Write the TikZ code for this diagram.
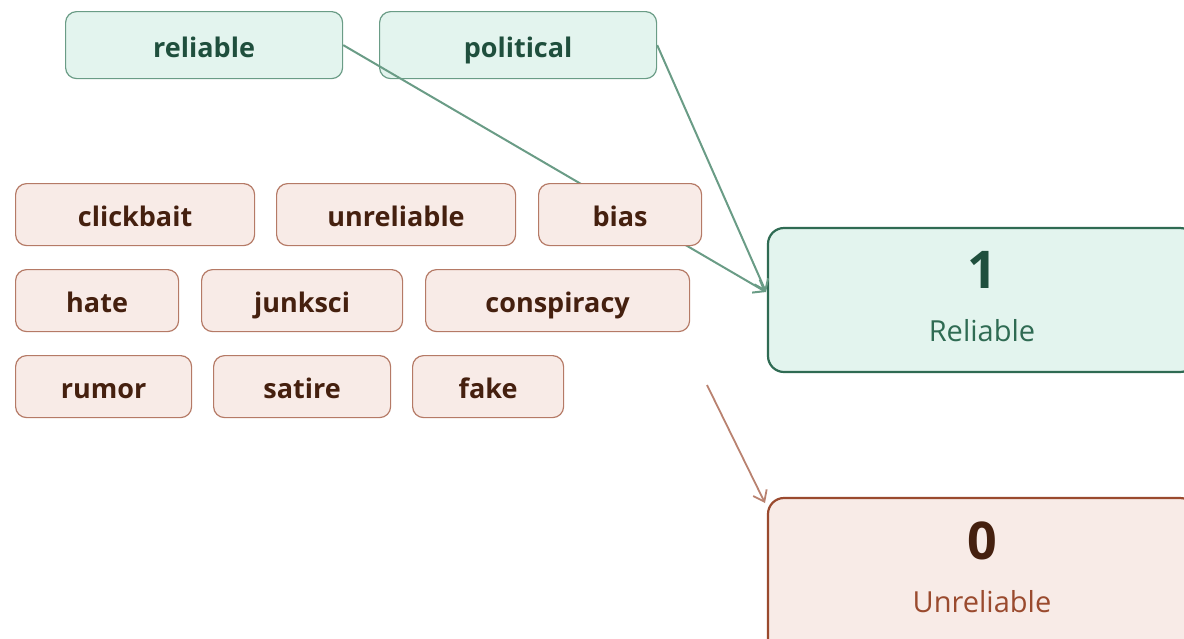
\documentclass[tikz,border=0pt]{standalone}
\usepackage{fontspec}
\setmainfont{Open Sans}
\usetikzlibrary{arrows.meta}
\definecolor{gfill}{HTML}{E3F4EE}
\definecolor{gline}{HTML}{6A9C86}
\definecolor{gdark}{HTML}{2F6B53}
\definecolor{gtext}{HTML}{1F4F3D}
\definecolor{bfill}{HTML}{F8EBE7}
\definecolor{bline}{HTML}{B57A66}
\definecolor{bdark}{HTML}{9A4A2E}
\definecolor{btext}{HTML}{45200F}
\definecolor{barrow}{HTML}{B98270}
\tikzset{
  tag/.style={draw, line width=1.2pt, rounded corners=11pt, font=\fontsize{27}{30}\selectfont\bfseries,
    minimum height=62pt, inner sep=0pt, anchor=north west, text height=28pt, text depth=4pt},
  gtag/.style={tag, fill=gfill, draw=gline, text=gtext, minimum height=67pt},
  btag/.style={tag, fill=bfill, draw=bline, text=btext},
  bigbox/.style={line width=2.2pt, rounded corners=16pt},
  digit/.style={font=\fontsize{52}{56}\selectfont\bfseries},
  caption/.style={font=\fontsize{29}{32}\selectfont},
  link/.style={line width=2pt, -{Straight Barb[length=10pt,width=15pt]}}
}
\begin{document}
\begin{tikzpicture}[x=1pt,y=-1pt]
\useasboundingbox (0,0) rectangle (1184,638);
\clip (0,0) rectangle (1184,638);

% class boxes
\draw[bigbox, fill=gfill, draw=gdark] (768,228) rectangle (1196,372);
\node[digit, text=gtext] (one) at (982,270) {1};
\node[caption, text=gdark] (rel) at (982,331) {Reliable};
\coordinate (relin) at (766,292);

\draw[bigbox, fill=bfill, draw=bdark] (768,498) rectangle (1196,660);
\node[digit, text=btext] (zero) at (982,541) {0};
\node[caption, text=bdark] (unrel) at (982,602) {Unreliable};
\coordinate (unrelin) at (765,503);
\coordinate (free) at (707,385);

% green labels
\node[gtag, minimum width=277pt] (reliable) at (65,11) {reliable};
\node[gtag, minimum width=277pt] (political) at (379,11) {political};

\draw[link, gline] (reliable.east) -- (relin);
\draw[link, gline] (political.east) -- (relin);

% brown labels
\node[btag, minimum width=239pt] (clickbait) at (15,183) {clickbait};
\node[btag, minimum width=239pt] (unreliable) at (276,183) {unreliable};
\node[btag, minimum width=163pt] (bias) at (538,183) {bias};
\node[btag, minimum width=163pt] (hate) at (15,269) {hate};
\node[btag, minimum width=201pt] (junksci) at (201,269) {junksci};
\node[btag, minimum width=264pt] (conspiracy) at (425,269) {conspiracy};
\node[btag, minimum width=176pt] (rumor) at (15,355) {rumor};
\node[btag, minimum width=177pt] (satire) at (213,355) {satire};
\node[btag, minimum width=151pt] (fake) at (412,355) {fake};

\draw[link, barrow, line width=1.8pt] (free) -- (unrelin);
\end{tikzpicture}
\end{document}
